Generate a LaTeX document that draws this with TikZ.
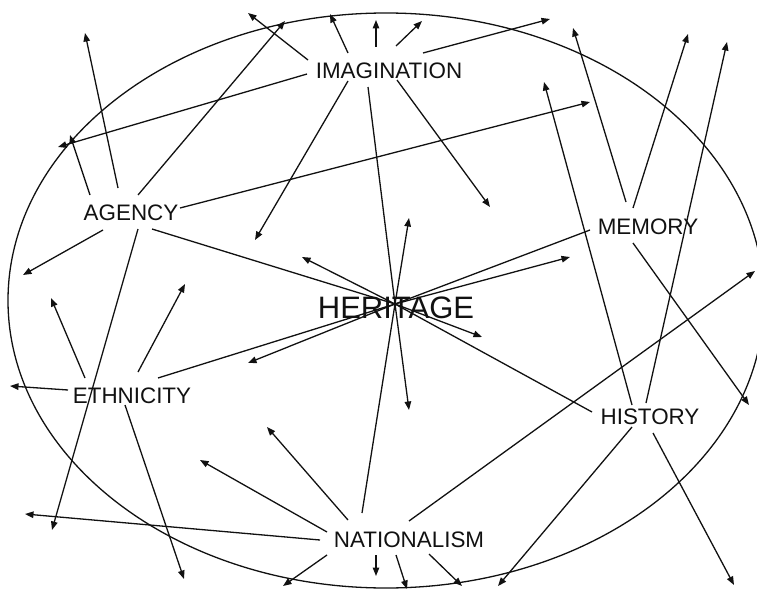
\documentclass[tikz,border=0pt]{standalone}
\usepackage{fontspec}
\setmainfont{Liberation Sans}
\usepackage{xcolor}
\usepackage{tikz}
\usetikzlibrary{arrows.meta}
\definecolor{mapInk}{HTML}{111111}
\tikzset{
  conceptnode/.style={font=\fontsize{22.4pt}{26pt}\selectfont, text=mapInk, inner sep=0pt},
  corenode/.style={font=\fontsize{31pt}{36pt}\selectfont, text=mapInk, inner sep=0pt},
  ringline/.style={draw=mapInk, line width=1.3pt},
  linkline/.style={draw=mapInk, line width=1.3pt},
  linkarrow/.style={-{Triangle[length=8.5pt,width=6.5pt]}, line width=1.3pt, draw=mapInk},
}

\begin{document}
\begin{tikzpicture}[x=1pt,y=-1pt]
  \useasboundingbox (0,0) rectangle (757,591);
  \draw[ringline] (386,300.5) ellipse [x radius=378, y radius=287.5];

  \node[corenode] (heritage) at (396,308) {HERITAGE};
  \node[conceptnode] (imag) at (389,71) {IMAGINATION};
  \node[conceptnode] (agency) at (131,213) {AGENCY};
  \node[conceptnode] (ethnic) at (132,396) {ETHNICITY};
  \node[conceptnode] (nation) at (409,540) {NATIONALISM};
  \node[conceptnode] (memory) at (648,227) {MEMORY};
  \node[conceptnode] (history) at (650,417) {HISTORY};
  \coordinate (hub) at ([shift={(-1,-4)}]heritage.center);

  % free ends of the arrows
  \foreach \t/\x/\y in {i1/248/13, i2/330/14, i3/376/20, i4/422/21, i5/550/19, i6/58/147, i7/255/240, i8/490/207,
      a1/70/135, a2/85/33, a3/285/21, a4/590/102, a5/52/530, a6/23/275,
      e1/51/298, e2/185/284, e3/10/386, e4/184/579,
      n1/25/514, n2/200/460, n3/267/427, n4/755/271, n5/283/586, n6/376/576, n7/407/589, n8/462/586,
      m1/573/28, m2/688/34, m3/749/405,
      h1/544/82, h2/727/42, h3/498/586, h4/734/585,
      r1/409/218, r2/409/410, r3/302/257, r4/482/337, r5/248/363, r6/570/257} { \coordinate (\t) at (\x,\y); }

  % links into heritage
  \foreach \n/\dx/\dy in {imag/-21/16, agency/21/16, ethnic/26/-18, nation/-47/-27, memory/-58/3, history/-58/-5} {
    \draw[linkline] ([shift={(\dx,\dy)}]\n.center) -- (hub);
  }

  \foreach \n/\dx/\dy/\t in {imag/-81/-11/i1, imag/-41/-18/i2, imag/-13/-24/i3, imag/7/-25/i4, imag/34/-18/i5, imag/-82/3/i6, imag/-41/10/i7, imag/8/9/i8,
      agency/-41/-18/a1, agency/-13/-25/a2, agency/7/-18/a3, agency/49/-5/a4, agency/7/16/a5, agency/-28/17/a6,
      ethnic/-47/-18/e1, ethnic/6/-24/e2, ethnic/-64/-6/e3, ethnic/-7/9/e4,
      nation/-89/0/n1, nation/-82/-8/n2, nation/-61/-20/n3, nation/0/-19/n4, nation/-82/15/n5, nation/-33/15/n6, nation/-13/15/n7, nation/20/14/n8,
      memory/-22/-25/m1, memory/-15/-19/m2, memory/-15/16/m3,
      history/-18/-12/h1, history/-4/-14/h2, history/-18/10/h3, history/3/16/h4} {
    \draw[linkarrow] ([shift={(\dx,\dy)}]\n.center) -- (\t);
  }
  \foreach \t in {r1,r2,r3,r4,r5,r6} { \draw[linkarrow] (hub) -- (\t); }
\end{tikzpicture}
\end{document}
